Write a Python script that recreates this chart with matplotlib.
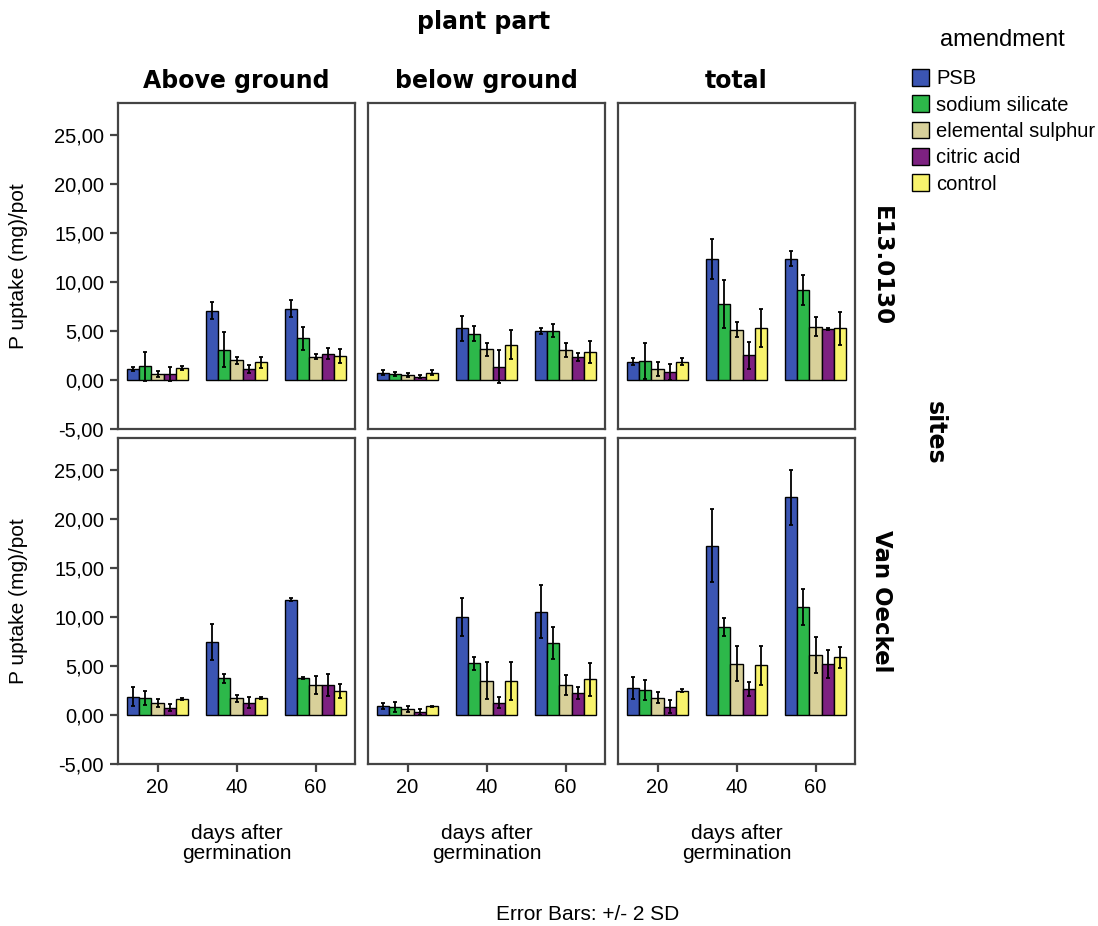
import numpy as np
from matplotlib import pyplot as plt

plt.rcParams['font.family'] = ['Liberation Sans', 'DejaVu Sans']

days = ['20', '40', '60']
amendments = ['PSB', 'sodium silicate', 'elemental sulphur', 'citric acid', 'control']
parts = ['Above ground', 'below ground', 'total']
sites = ['E13.0130', 'Van Oeckel']
colors = ['#3b55b3', '#2db84a', '#d8d09a', '#7d2181', '#f8f36c']

# mean P uptake per day (rows) and amendment (columns), and the +/- 2 SD half length
above_e13 = [[1.1, 1.4, 0.65, 0.65, 1.2], [7.1, 3.1, 2.0, 1.15, 1.8], [7.3, 4.25, 2.4, 2.7, 2.45]]
above_e13_err = [[0.2, 1.5, 0.3, 0.7, 0.2], [0.85, 1.8, 0.4, 0.4, 0.6], [0.9, 1.2, 0.3, 0.55, 0.7]]
below_e13 = [[0.75, 0.58, 0.5, 0.35, 0.75], [5.27, 4.75, 3.15, 1.37, 3.6], [5.03, 5.03, 3.08, 2.36, 2.87]]
below_e13_err = [[0.25, 0.2, 0.2, 0.15, 0.25], [1.3, 0.77, 0.68, 1.7, 1.5], [0.3, 0.65, 0.7, 0.4, 1.15]]
total_e13 = [[1.88, 1.95, 1.1, 0.85, 1.88], [12.4, 7.77, 5.13, 2.53, 5.3], [12.4, 9.2, 5.44, 5.2, 5.27]]
total_e13_err = [[0.35, 1.8, 0.7, 0.8, 0.35], [2.05, 2.5, 0.77, 1.4, 1.95], [0.8, 1.5, 0.95, 0.1, 1.65]]

above_vo = [[1.88, 1.71, 1.2, 0.75, 1.6], [7.43, 3.77, 1.71, 1.27, 1.71], [11.8, 3.77, 3.08, 3.08, 2.47]]
above_vo_err = [[1.0, 0.72, 0.4, 0.35, 0.1], [1.85, 0.45, 0.35, 0.6, 0.1], [0.2, 0.1, 0.95, 1.1, 0.7]]
below_vo = [[0.92, 0.86, 0.62, 0.34, 0.92], [10.0, 5.3, 3.5, 1.27, 3.5], [10.55, 7.36, 3.08, 2.23, 3.66]]
below_vo_err = [[0.3, 0.5, 0.3, 0.3, 0.05], [1.95, 0.65, 1.9, 0.6, 1.95], [2.7, 1.65, 1.0, 0.6, 1.7]]
total_vo = [[2.74, 2.57, 1.78, 0.86, 2.47], [17.3, 9.0, 5.24, 2.67, 5.07], [22.26, 11.03, 6.16, 5.24, 5.9]]
total_vo_err = [[1.1, 1.0, 0.55, 0.65, 0.15], [3.7, 0.95, 1.8, 0.75, 2.0], [2.8, 1.85, 1.85, 1.45, 1.1]]

yticks = [-5, 0, 5, 10, 15, 20, 25]

panels = [[(above_e13, above_e13_err), (below_e13, below_e13_err), (total_e13, total_e13_err)],
          [(above_vo, above_vo_err), (below_vo, below_vo_err), (total_vo, total_vo_err)]]

W, H = 1098, 926
fig = plt.figure(figsize=(W / 100, H / 100), dpi=100)

col_x = [118, 368, 618]
row_y = [103, 438]
pw, ph = 237, 326
bw = 0.155
x = np.arange(len(days))
frame = '#444444'

handles = None
for r in range(2):
    for c in range(3):
        ax = fig.add_axes([col_x[c] / W, 1 - (row_y[r] + ph) / H, pw / W, ph / H])
        means = np.array(panels[r][c][0])
        errs = np.array(panels[r][c][1])
        bars = []
        for k in range(len(amendments)):
            pos = x + (k - 2) * bw
            b = ax.bar(pos, means[:, k], bw, color=colors[k], edgecolor='black', linewidth=1.0,
                       label=amendments[k], zorder=2)
            ax.errorbar(pos, means[:, k], yerr=errs[:, k], fmt='none', ecolor='black',
                        elinewidth=1.3, capsize=1.5, capthick=1.3, zorder=3)
            bars.append(b)
        handles = bars
        ax.set_xlim(-0.5, 2.5)
        ax.set_ylim(-5, 28.3)
        for s in ax.spines.values():
            s.set_color(frame)
            s.set_linewidth(1.6)
        ax.set_yticks(yticks)
        ax.set_xticks(x)
        ax.tick_params(length=6, width=1.6, color=frame, labelsize=14.5, pad=4)
        if c == 0:
            ax.set_yticklabels([('%.2f' % v).replace('.', ',') for v in yticks])
            ax.set_ylabel('P uptake (mg)/pot', fontsize=15)
            ax.yaxis.set_label_coords(-0.38, 0.5)
        else:
            ax.tick_params(axis='y', left=False, labelleft=False)
        if r == 1:
            ax.set_xticklabels(days)
            ax.set_xlabel('days after\ngermination', fontsize=15, linespacing=1.05)
            ax.xaxis.set_label_coords(0.5, -0.185)
        else:
            ax.tick_params(axis='x', bottom=False, labelbottom=False)
        if r == 0:
            ax.set_title(parts[c], fontsize=17, fontweight='bold', family='DejaVu Sans', pad=11)
        if c == 2:
            ax.text(1.11, 0.5, sites[r], transform=ax.transAxes, rotation=270, ha='center',
                    va='center', fontsize=16.5, fontweight='bold', family='DejaVu Sans')

fig.text(484 / W, 1 - 22 / H, 'plant part', ha='center', va='center', fontsize=17,
         fontweight='bold', family='DejaVu Sans')
fig.text(935 / W, 1 - 433 / H, 'sites', ha='center', va='center', rotation=270, fontsize=17,
         fontweight='bold', family='DejaVu Sans')
fig.text(588 / W, 1 - 915 / H, 'Error Bars: +/- 2 SD', ha='center', va='center', fontsize=15)

fig.text(1002 / W, 1 - 40 / H, 'amendment', ha='center', va='center', fontsize=17)
leg = fig.legend(handles, amendments, loc='upper left', bbox_to_anchor=(912 / W, 1 - 69 / H),
                 frameon=False, fontsize=14.5,
                 handlelength=0.85, handleheight=0.9, handletextpad=0.35, labelspacing=0.35,
                 borderaxespad=0, borderpad=0)

fig.savefig('out.png', dpi=100)
